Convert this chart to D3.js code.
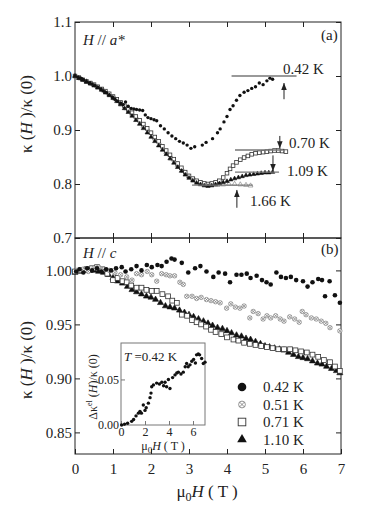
<!DOCTYPE html>
<html>
<head>
<meta charset="utf-8">
<script src="https://cdn.jsdelivr.net/npm/d3@7"></script>
<style>
  html, body { margin: 0; padding: 0; background: #fff; }
  svg { display: block; font-family: "Liberation Serif", "DejaVu Serif", serif; }
</style>
</head>
<body>
<svg id="chart" width="382" height="507"></svg>
<script>
// ── Data: panel (a) H // a*  [field (T), κ(H)/κ(0)] ──
const a042 = [[0.00,1.000],[0.08,0.998],[0.15,0.996],[0.22,0.993],[0.30,0.990],[0.38,0.987],[0.45,0.985],[0.53,0.982],[0.60,0.979],[0.68,0.976],[0.75,0.972],[0.83,0.969],[0.90,0.965],[0.98,0.961],[1.05,0.957],[1.12,0.953],[1.20,0.950],[1.27,0.947],[1.33,0.952],[1.40,0.944],[1.48,0.940],[1.55,0.939],[1.62,0.938],[1.70,0.937],[1.78,0.936],[1.85,0.928],[1.92,0.923],[2.00,0.921],[2.08,0.919],[2.15,0.917],[2.25,0.908],[2.35,0.902],[2.45,0.895],[2.55,0.889],[2.65,0.884],[2.75,0.879],[2.85,0.876],[2.95,0.872],[3.05,0.866],[3.15,0.869],[3.35,0.872],[3.45,0.877],[3.62,0.884],[3.75,0.895],[3.82,0.902],[3.92,0.915],[4.00,0.925],[4.08,0.938],[4.16,0.945],[4.25,0.955],[4.34,0.964],[4.45,0.970],[4.55,0.973],[4.65,0.977],[4.75,0.980],[4.85,0.987],[4.95,0.984],[5.05,0.991],[5.13,0.996],[5.20,0.994]];
const a070 = [[0.00,1.000],[0.10,0.997],[0.20,0.993],[0.30,0.990],[0.40,0.987],[0.50,0.984],[0.60,0.980],[0.70,0.976],[0.80,0.972],[0.90,0.967],[1.00,0.962],[1.10,0.957],[1.20,0.951],[1.30,0.945],[1.40,0.938],[1.50,0.932],[1.60,0.925],[1.70,0.918],[1.80,0.911],[1.90,0.903],[2.00,0.895],[2.10,0.887],[2.20,0.879],[2.30,0.870],[2.40,0.862],[2.50,0.854],[2.60,0.846],[2.70,0.838],[2.80,0.830],[2.90,0.822],[3.00,0.815],[3.10,0.810],[3.20,0.806],[3.30,0.803],[3.40,0.801],[3.50,0.800],[3.60,0.801],[3.70,0.803],[3.80,0.806],[3.90,0.812],[4.00,0.820],[4.08,0.828],[4.16,0.834],[4.25,0.840],[4.35,0.845],[4.45,0.849],[4.55,0.852],[4.65,0.855],[4.75,0.857],[4.85,0.858],[4.95,0.859],[5.05,0.860],[5.15,0.861],[5.25,0.862],[5.35,0.862],[5.45,0.861],[5.55,0.860]];
const a109 = [[0.00,1.000],[0.10,0.996],[0.20,0.993],[0.30,0.989],[0.40,0.986],[0.50,0.982],[0.60,0.978],[0.70,0.974],[0.80,0.969],[0.90,0.964],[1.00,0.959],[1.10,0.953],[1.20,0.947],[1.30,0.940],[1.40,0.933],[1.50,0.926],[1.60,0.918],[1.70,0.911],[1.80,0.903],[1.90,0.895],[2.00,0.887],[2.10,0.879],[2.20,0.871],[2.30,0.863],[2.40,0.855],[2.50,0.847],[2.60,0.839],[2.70,0.831],[2.80,0.824],[2.90,0.817],[3.00,0.811],[3.10,0.806],[3.20,0.802],[3.30,0.799],[3.40,0.797],[3.50,0.796],[3.60,0.797],[3.70,0.799],[3.80,0.801],[3.90,0.803],[4.00,0.805],[4.10,0.808],[4.20,0.810],[4.30,0.812],[4.40,0.814],[4.50,0.816],[4.60,0.817],[4.70,0.818],[4.80,0.819],[4.90,0.820],[5.00,0.821],[5.10,0.821],[5.20,0.822]];
const a166 = [[0.00,1.000],[0.15,0.995],[0.30,0.990],[0.45,0.985],[0.60,0.979],[0.75,0.973],[0.90,0.966],[1.05,0.958],[1.20,0.949],[1.35,0.940],[1.50,0.930],[1.65,0.919],[1.80,0.907],[1.95,0.896],[2.10,0.884],[2.25,0.872],[2.40,0.859],[2.55,0.847],[2.70,0.835],[2.85,0.824],[3.00,0.814],[3.15,0.807],[3.30,0.802],[3.45,0.799],[3.60,0.798],[3.75,0.798],[3.90,0.799],[4.05,0.800],[4.20,0.800],[4.35,0.799],[4.50,0.798],[4.62,0.797]];

// ── Data: panel (b) H // c ──
const b042 = [[0.03,0.999],[0.12,1.001],[0.22,0.998],[0.32,1.002],[0.45,1.000],[0.58,1.002],[0.70,0.999],[0.82,1.001],[0.95,1.000],[1.08,1.002],[1.23,1.003],[1.33,0.999],[1.48,1.001],[1.62,1.004],[1.75,1.000],[1.89,1.005],[2.02,1.003],[2.17,1.005],[2.28,1.004],[2.41,1.008],[2.54,1.011],[2.62,1.010],[2.81,1.007],[2.98,0.998],[3.16,1.002],[3.30,1.004],[3.46,0.999],[3.64,0.994],[3.78,0.998],[3.95,0.997],[4.08,0.989],[4.25,0.996],[4.38,0.996],[4.52,0.997],[4.62,0.993],[4.78,0.995],[4.92,0.991],[5.04,0.989],[5.15,0.987],[5.30,0.998],[5.42,0.994],[5.55,0.993],[5.68,0.994],[5.82,0.991],[6.00,0.990],[6.12,0.985],[6.25,0.989],[6.40,0.992],[6.50,0.991],[6.58,0.976],[6.70,0.990],[6.84,0.977],[6.97,0.970]];
const b051 = [[0.05,1.000],[0.20,1.001],[0.35,0.999],[0.50,1.002],[0.62,1.003],[0.75,1.001],[0.90,1.000],[1.05,0.998],[1.20,0.996],[1.36,0.994],[1.50,0.991],[1.62,0.997],[1.75,0.996],[1.90,0.999],[2.02,0.996],[2.15,0.990],[2.28,0.997],[2.40,0.996],[2.50,0.995],[2.62,0.995],[2.76,0.989],[2.85,0.987],[2.94,0.976],[3.08,0.976],[3.20,0.974],[3.32,0.975],[3.46,0.973],[3.58,0.972],[3.70,0.971],[3.82,0.970],[3.99,0.965],[4.10,0.969],[4.22,0.966],[4.34,0.965],[4.45,0.967],[4.60,0.956],[4.69,0.962],[4.82,0.960],[4.95,0.955],[5.05,0.958],[5.15,0.956],[5.28,0.958],[5.40,0.955],[5.50,0.953],[5.65,0.957],[5.78,0.955],[5.90,0.952],[5.98,0.962],[6.08,0.959],[6.22,0.956],[6.35,0.955],[6.48,0.953],[6.60,0.951],[6.71,0.947],[6.97,0.944]];
const b071 = [[0.00,0.999],[0.15,1.000],[0.30,1.001],[0.45,1.002],[0.58,1.003],[0.72,1.001],[0.85,0.997],[1.00,0.991],[1.12,0.993],[1.25,0.990],[1.36,0.989],[1.48,0.986],[1.62,0.984],[1.75,0.984],[1.88,0.982],[2.02,0.981],[2.15,0.981],[2.30,0.978],[2.45,0.976],[2.56,0.972],[2.68,0.970],[2.81,0.959],[2.95,0.958],[3.08,0.954],[3.20,0.952],[3.32,0.950],[3.45,0.948],[3.58,0.945],[3.70,0.943],[3.85,0.941],[4.00,0.938],[4.17,0.936],[4.30,0.935],[4.45,0.933],[4.60,0.932],[4.75,0.931],[4.90,0.930],[5.05,0.929],[5.20,0.928],[5.35,0.927],[5.50,0.927],[5.66,0.927],[5.80,0.926],[5.95,0.925],[6.10,0.924],[6.25,0.922],[6.40,0.920],[6.55,0.917],[6.71,0.915],[6.84,0.911],[6.97,0.907]];
const b110 = [[0.00,0.998],[0.12,0.999],[0.25,1.000],[0.38,1.000],[0.50,1.000],[0.62,0.999],[0.75,0.998],[0.88,0.996],[1.00,0.993],[1.12,0.990],[1.25,0.988],[1.38,0.985],[1.50,0.982],[1.62,0.980],[1.75,0.978],[1.88,0.976],[2.00,0.975],[2.12,0.973],[2.25,0.970],[2.38,0.967],[2.50,0.966],[2.62,0.965],[2.75,0.963],[2.88,0.961],[3.00,0.959],[3.12,0.957],[3.25,0.955],[3.38,0.953],[3.50,0.951],[3.62,0.949],[3.75,0.947],[3.88,0.946],[4.00,0.944],[4.12,0.942],[4.25,0.940],[4.38,0.939],[4.50,0.937],[4.62,0.936],[4.75,0.934],[4.88,0.932],[5.00,0.930],[5.12,0.929],[5.25,0.928],[5.38,0.927],[5.50,0.926],[5.62,0.924],[5.75,0.922],[5.88,0.920],[6.00,0.919],[6.12,0.918],[6.25,0.916],[6.38,0.914],[6.50,0.913],[6.62,0.911],[6.75,0.909],[6.88,0.907],[6.97,0.905]];

// ── Data: inset Δκ^el(H)/κ(0) at 0.42 K ──
const inset042 = [[0.05,0.000],[0.30,0.001],[0.55,0.002],[0.89,0.004],[1.05,0.006],[1.25,0.010],[1.45,0.013],[1.58,0.015],[1.70,0.013],[2.00,0.016],[1.86,0.022],[2.10,0.019],[2.28,0.024],[2.42,0.030],[2.50,0.035],[2.56,0.042],[2.70,0.044],[2.97,0.046],[3.20,0.045],[3.40,0.047],[3.67,0.047],[3.80,0.042],[3.55,0.043],[4.08,0.040],[3.95,0.050],[4.30,0.052],[4.50,0.055],[4.65,0.057],[4.78,0.058],[5.00,0.056],[5.19,0.058],[5.35,0.064],[5.47,0.0675],[5.60,0.064],[5.75,0.066],[5.90,0.070],[6.05,0.072],[6.20,0.068],[6.30,0.077],[6.44,0.078],[6.55,0.077],[6.72,0.073],[6.86,0.0675],[7.00,0.069]];

// ── Tick labels ──
const xTicks = [0, 1, 2, 3, 4, 5, 6, 7];
const yTicksA = [0.7, 0.8, 0.9, 1.0, 1.1];
const yTicksB = [0.85, 0.90, 0.95, 1.00];
const xTicksIn = [0, 2, 4, 6];
const yTicksIn = [0.00, 0.05];
const legendLabels = ['0.42 K', '0.51 K', '0.71 K', '1.10 K'];

const svg = d3.select('#chart');
const L = 75, R = 341;
const x = d3.scaleLinear([0, 7], [L, R]);
const yA = d3.scaleLinear([0.7, 1.1], [238, 22]);
const yB = d3.scaleLinear([0.83, 1.03], [454, 238]);
const xIn = d3.scaleLinear([0, 7], [121, 205]);
const yIn = d3.scaleLinear([0, 0.09], [425, 343]);
const INK = '#222';

// ── Frames + inward ticks ──
function frame(ys, top, bot, yt, fmt, showX) {
  svg.append('rect').attr('x', L).attr('y', top).attr('width', R - L).attr('height', bot - top)
    .attr('fill', 'none').attr('stroke', INK).attr('stroke-width', 1);
  const ax = (g, a) => { g.call(a); g.select('.domain').remove(); g.selectAll('line').attr('stroke', INK); };
  svg.append('g').attr('transform', `translate(${L},0)`)
    .call(g => ax(g, d3.axisLeft(ys).tickValues(yt).tickFormat(fmt).tickSize(-5).tickSizeOuter(0).tickPadding(3)));
  svg.append('g').attr('transform', `translate(${R},0)`)
    .call(g => ax(g, d3.axisRight(ys).tickValues(yt).tickFormat('').tickSize(-5).tickSizeOuter(0)));
  svg.append('g').attr('transform', `translate(0,${top})`)
    .call(g => ax(g, d3.axisTop(x).tickValues(xTicks.slice(1, -1)).tickFormat('').tickSize(-5).tickSizeOuter(0)));
  svg.append('g').attr('transform', `translate(0,${bot})`)
    .call(g => ax(g, d3.axisBottom(x).tickValues(showX ? xTicks : xTicks.slice(1, -1))
      .tickFormat(showX ? d3.format('d') : '').tickSize(-5).tickSizeOuter(0).tickPadding(9)));
}
frame(yA, 22, 238, yTicksA, d3.format('.1f'), false);
frame(yB, 238, 454, yTicksB, d3.format('.2f'), true);
svg.selectAll('.tick text').attr('font-size', 15).attr('fill', INK)
  .attr('font-family', '"Liberation Serif", serif');

// ── Markers ──
const tri = s => d3.symbol(d3.symbolTriangle, s)();
function dots(data, xs, ys, kind, o) {
  const g = svg.append('g');
  const sel = g.selectAll('g').data(data).enter().append('g')
    .attr('transform', d => `translate(${xs(d[0])},${ys(d[1])})`);
  if (kind === 'dot') sel.append('circle').attr('r', o.r).attr('fill', o.c);
  if (kind === 'sq') sel.append('rect').attr('x', -o.r).attr('y', -o.r).attr('width', o.r * 2).attr('height', o.r * 2)
    .attr('fill', '#fff').attr('stroke', o.c).attr('stroke-width', 0.8);
  if (kind === 'tri') sel.append('path').attr('d', tri(o.s)).attr('fill', o.fill).attr('stroke', o.c).attr('stroke-width', 0.6);
  if (kind === 'ox') {
    sel.append('circle').attr('r', o.r).attr('fill', '#fff').attr('stroke', o.c).attr('stroke-width', 0.7);
    const k = o.r * 0.7;
    sel.append('path').attr('d', `M${-k},${-k}L${k},${k}M${-k},${k}L${k},${-k}`).attr('stroke', o.c).attr('stroke-width', 0.7);
  }
  return g;
}

// ── Panel (a) ──
dots(a166, x, yA, 'tri', { s: 10, c: '#777', fill: '#fff' });
dots(a070, x, yA, 'sq', { r: 1.8, c: '#333' });
dots(a109, x, yA, 'tri', { s: 8, c: '#111', fill: '#111' });
dots(a042, x, yA, 'dot', { r: 1.7, c: '#111' });

// level lines and arrows
const defs = svg.append('defs');
defs.append('marker').attr('id', 'ah').attr('viewBox', '0 0 10 10').attr('refX', 10).attr('refY', 5)
  .attr('markerWidth', 7).attr('markerHeight', 7).attr('markerUnits', 'userSpaceOnUse').attr('orient', 'auto')
  .append('path').attr('d', 'M0,1L10,5L0,9Z').attr('fill', INK);
function level(x0, x1, v) {
  svg.append('line').attr('x1', x(x0)).attr('x2', x(x1)).attr('y1', yA(v)).attr('y2', yA(v))
    .attr('stroke', '#777').attr('stroke-width', 1.4);
}
function arrow(t, v0, v1) {
  svg.append('line').attr('x1', x(t)).attr('x2', x(t)).attr('y1', yA(v0)).attr('y2', yA(v1))
    .attr('stroke', INK).attr('stroke-width', 1).attr('marker-end', 'url(#ah)');
}
function label(px, py, s, size) {
  return svg.append('text').attr('x', px).attr('y', py).attr('font-size', size || 15).attr('fill', INK).text(s);
}
level(4.12, 5.83, 1.000); arrow(5.50, 0.957, 0.987); label(283, 74, '0.42 K');
level(4.21, 5.47, 0.863); arrow(5.39, 0.889, 0.866); label(289, 148, '0.70 K');
level(4.21, 5.37, 0.822); arrow(5.21, 0.853, 0.824); label(287, 176, '1.09 K');
level(3.08, 4.68, 0.798); arrow(4.26, 0.756, 0.789); label(250, 206, '1.66 K');

// ── Panel (b) ──
dots(b110, x, yB, 'tri', { s: 16, c: '#111', fill: '#111' });
dots(b071, x, yB, 'sq', { r: 2.4, c: '#333' });
dots(b051, x, yB, 'ox', { r: 2.2, c: '#777' });
dots(b042, x, yB, 'dot', { r: 2.3, c: '#111' });

// panel tags
const ta = label(83, 45, '', 15);
ta.append('tspan').attr('font-style', 'italic').text('H');
ta.append('tspan').text(' // ');
ta.append('tspan').attr('font-style', 'italic').text('a*');
label(321, 40, '(a)');
const tb = label(83, 258, '', 15);
tb.append('tspan').attr('font-style', 'italic').text('H');
tb.append('tspan').text(' // ');
tb.append('tspan').attr('font-style', 'italic').text('c');
label(321, 254, '(b)');

// ── Legend ──
const lg = svg.append('g');
legendLabels.forEach((s, i) => {
  const cy = 387 + i * 17.5, cx = 242;
  const g = lg.append('g').attr('transform', `translate(${cx},${cy})`);
  if (i === 0) g.append('circle').attr('r', 4.3).attr('fill', '#111');
  if (i === 1) {
    g.append('circle').attr('r', 3.4).attr('fill', '#fff').attr('stroke', '#777').attr('stroke-width', 0.8);
    g.append('path').attr('d', 'M-2.4,-2.4L2.4,2.4M-2.4,2.4L2.4,-2.4').attr('stroke', '#777').attr('stroke-width', 0.8);
  }
  if (i === 2) g.append('rect').attr('x', -3.8).attr('y', -3.8).attr('width', 7.6).attr('height', 7.6)
    .attr('fill', '#fff').attr('stroke', '#333').attr('stroke-width', 0.9);
  if (i === 3) g.append('path').attr('d', tri(40)).attr('fill', '#111');
  label(263, cy + 5, s);
});

// ── Inset ──
svg.append('rect').attr('x', xIn(0)).attr('y', yIn(0.09)).attr('width', xIn(7) - xIn(0)).attr('height', yIn(0) - yIn(0.09))
  .attr('fill', '#fff').attr('stroke', '#777').attr('stroke-width', 1);
const gi = svg.append('g');
gi.append('g').attr('transform', `translate(${xIn(0)},0)`)
  .call(d3.axisLeft(yIn).tickValues(yTicksIn).tickFormat(d3.format('.2f')).tickSize(-4).tickSizeOuter(0).tickPadding(2))
  .call(g => g.select('.domain').remove());
gi.append('g').attr('transform', `translate(0,${yIn(0)})`)
  .call(d3.axisBottom(xIn).tickValues(xTicksIn).tickFormat(d3.format('d')).tickSize(-4).tickSizeOuter(0).tickPadding(2))
  .call(g => g.select('.domain').remove());
gi.selectAll('line').attr('stroke', '#777');
gi.selectAll('text').attr('font-size', 12).attr('fill', INK).attr('font-family', '"Liberation Serif", serif');
dots(inset042, xIn, yIn, 'dot', { r: 1.7, c: '#111' });
const tt = label(124, 361, '', 13);
tt.append('tspan').attr('font-style', 'italic').text('T');
tt.append('tspan').text(' =0.42 K');
const ixl = label(163, 450, '', 12).attr('text-anchor', 'middle');
ixl.append('tspan').text('μ');
ixl.append('tspan').attr('font-size', 9).attr('dy', 3).text('0');
ixl.append('tspan').attr('font-style', 'italic').attr('dy', -3).text('H');
ixl.append('tspan').text(' ( T )');
const iyl = svg.append('text').attr('transform', 'translate(97,387) rotate(-90)')
  .attr('text-anchor', 'middle').attr('font-size', 12).attr('fill', INK);
iyl.append('tspan').text('Δκ');
iyl.append('tspan').attr('font-size', 8).attr('dy', -5).text('el');
iyl.append('tspan').attr('dy', 5).text(' (');
iyl.append('tspan').attr('font-style', 'italic').text('H');
iyl.append('tspan').text(')/κ (0)');

// ── Axis titles ──
function yTitle(cy) {
  const t = svg.append('text').attr('transform', `translate(32,${cy}) rotate(-90)`)
    .attr('text-anchor', 'middle').attr('font-size', 17).attr('fill', INK);
  t.append('tspan').text('κ (');
  t.append('tspan').attr('font-style', 'italic').text('H');
  t.append('tspan').text(' )/κ (0)');
}
yTitle(114);
yTitle(360);
const xt = svg.append('text').attr('x', 207).attr('y', 497).attr('text-anchor', 'middle').attr('font-size', 17).attr('fill', INK);
xt.append('tspan').text('μ');
xt.append('tspan').attr('font-size', 12).attr('dy', 4).text('0');
xt.append('tspan').attr('font-style', 'italic').attr('dy', -4).text('H');
xt.append('tspan').text('  ( T )');
</script>
</body>
</html>
